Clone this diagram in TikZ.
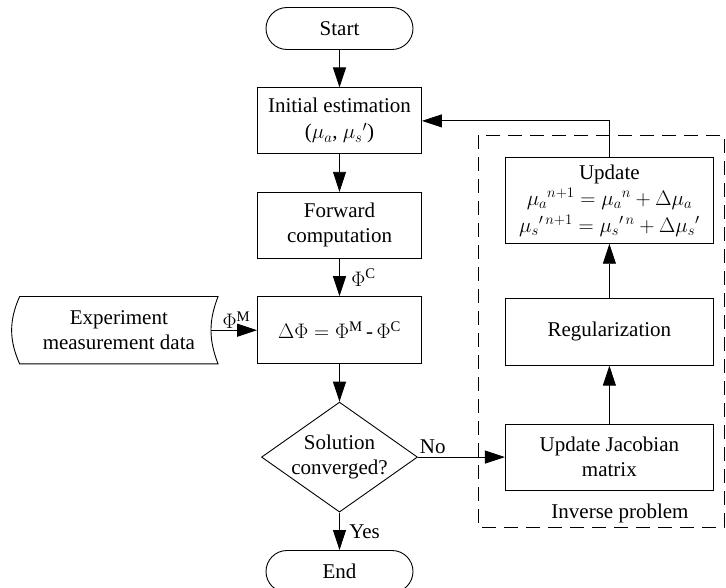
\IfFileExists{fix-cm.sty}{\RequirePackage{fix-cm}}{}
\documentclass[tikz,border=0pt]{standalone}
\usepackage{amsmath}
\usepackage{fontspec}
\setmainfont{Liberation Serif}
\usepackage{tikz}
\usetikzlibrary{arrows.meta, positioning, shapes.geometric}

\begin{document}
\begin{tikzpicture}[
    x=1pt, y=-1pt,
    node distance=37.5pt,
    font={\fontsize{21}{25}\selectfont},
    block/.style={rectangle, draw, line width=0.9pt, minimum height=66pt, minimum width=164pt, align=center},
    wideblock/.style={block, minimum width=208pt},
    term/.style={rectangle, draw, line width=0.9pt, rounded corners=21pt, minimum height=42pt, minimum width=147pt, align=center},
    decision/.style={diamond, draw, line width=0.9pt, aspect=1.42, inner xsep=-10pt, inner ysep=0pt,
                     minimum width=156pt, minimum height=110pt, align=center},
    arr/.style={-{Triangle[length=20pt,width=13pt]}, line width=0.9pt},
    dashbox/.style={line width=0.9pt, dash pattern=on 14pt off 8pt},
]
    \useasboundingbox (0,0) rectangle (726,588);

    \node[term] (start) at (339.5,28.5) {Start};
    \node[block, below=of start] (init) {Initial estimation\\[1pt]($\mu_a$, $\mu_s{}'$)};
    \node[block, below=of init] (fwd) {Forward\\computation};
    \node[block, minimum height=67pt, below=of fwd] (delta) {$\Delta\Phi = \Phi^{\mathrm{M}}$\,-\,$\Phi^{\mathrm{C}}$};
    \node[decision, below=of delta] (conv) {Solution\\converged?};
    \node[term, below=of conv] (stop) {End};

    \node[minimum width=198pt, minimum height=67pt, align=center, left=39pt of delta] (data) {Experiment\\measurement data};
    \draw[line width=0.9pt] (data.north west) to[bend right=24] (data.south west)
        -- (data.south east) to[bend left=21] (data.north east) -- cycle;

    \node[wideblock, right=87pt of conv] (jac) {Update Jacobian\\matrix};
    \node[wideblock, minimum height=67pt, above=58pt of jac] (reg) {Regularization};
    \node[wideblock, minimum height=86pt, inner ysep=1pt, above=54pt of reg] (upd) {Update\\[1pt]
        $\mu_a{}^{n+1} = \mu_a{}^{n} + \Delta\mu_a$\\[2pt]
        $\mu_s{}'^{\,n+1} = \mu_s{}'^{\,n} + \Delta\mu_s{}'$};

    \draw[dashbox] (478,135) rectangle (724,527);
    \node (invlbl) at (620,513) {Inverse problem};

    \draw[arr] (start) -- (init);
    \draw[arr] (init) -- (fwd);
    \draw[arr] (fwd) -- (delta) node[midway, right=8pt] {$\Phi^{\mathrm{C}}$};
    \draw[arr] ([xshift=-7pt]data.east) -- (delta.west) node[pos=0.55, above, inner sep=1pt] {$\Phi^{\mathrm{M}}$};
    \draw[arr] (delta) -- (conv);
    \draw[arr] (conv) -- (stop) node[midway, right=6pt] {Yes};
    \draw[arr] (conv.east) -- (jac.west) node[pos=0.17, above] {No};
    \draw[arr] (jac) -- (reg);
    \draw[arr] (reg) -- (upd);
    \draw[arr] (upd.north) -- (upd.north |- init.east) -- (init.east);
\end{tikzpicture}
\end{document}
